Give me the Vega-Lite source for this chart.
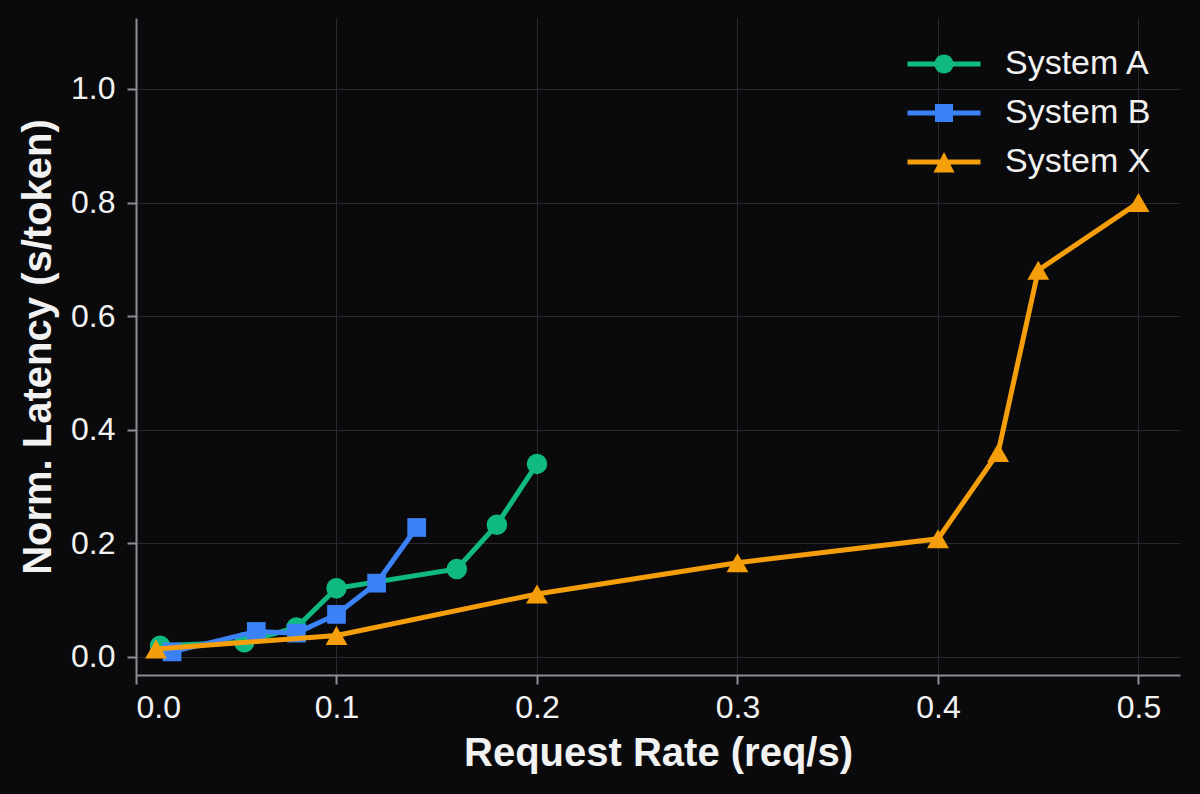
{
  "$schema": "https://vega.github.io/schema/vega-lite/v6.json",
  "description": "Normalized latency vs request rate for three serving systems, dark theme",
  "autosize": "none",
  "width": 1044,
  "height": 657,
  "padding": {"left": 136, "top": 18, "right": 20, "bottom": 119},
  "background": "#0a0a0c",
  "config": {
    "view": {"stroke": null},
    "font": "Liberation Sans",
    "axis": {
      "domainColor": "#8e8e94",
      "domainWidth": 2,
      "tickColor": "#8e8e94",
      "tickWidth": 2,
      "tickSize": 9,
      "gridColor": "#2a2a2e",
      "gridWidth": 1,
      "labelColor": "#f2f2f2",
      "labelFont": "Liberation Sans",
      "labelFontSize": 32,
      "titleColor": "#f2f2f2",
      "titleFont": "Liberation Sans",
      "titleFontSize": 40,
      "titleFontWeight": "bold"
    }
  },
  "data": {
    "values": [
      {"series": "System A", "rate": 0.012, "latency": 0.020},
      {"series": "System A", "rate": 0.054, "latency": 0.026},
      {"series": "System A", "rate": 0.080, "latency": 0.052},
      {"series": "System A", "rate": 0.100, "latency": 0.121},
      {"series": "System A", "rate": 0.160, "latency": 0.155},
      {"series": "System A", "rate": 0.180, "latency": 0.233},
      {"series": "System A", "rate": 0.200, "latency": 0.340},
      {"series": "System B", "rate": 0.018, "latency": 0.009},
      {"series": "System B", "rate": 0.060, "latency": 0.045},
      {"series": "System B", "rate": 0.080, "latency": 0.042},
      {"series": "System B", "rate": 0.100, "latency": 0.075},
      {"series": "System B", "rate": 0.120, "latency": 0.130},
      {"series": "System B", "rate": 0.140, "latency": 0.228},
      {"series": "System X", "rate": 0.010, "latency": 0.014},
      {"series": "System X", "rate": 0.100, "latency": 0.038},
      {"series": "System X", "rate": 0.200, "latency": 0.111},
      {"series": "System X", "rate": 0.300, "latency": 0.166},
      {"series": "System X", "rate": 0.400, "latency": 0.208},
      {"series": "System X", "rate": 0.430, "latency": 0.360},
      {"series": "System X", "rate": 0.450, "latency": 0.681},
      {"series": "System X", "rate": 0.500, "latency": 0.800}
    ]
  },
  "encoding": {
    "x": {
      "field": "rate",
      "type": "quantitative",
      "title": "Request Rate (req/s)",
      "scale": {"domain": [0, 0.5207], "nice": false, "zero": false},
      "axis": {
        "values": [0, 0.1, 0.2, 0.3, 0.4, 0.5],
        "format": ".1f",
        "labelPadding": 8,
        "titlePadding": 10
      }
    },
    "y": {
      "field": "latency",
      "type": "quantitative",
      "title": "Norm. Latency (s/token)",
      "scale": {"domain": [-0.0317, 1.125], "nice": false, "zero": false},
      "axis": {
        "values": [0, 0.2, 0.4, 0.6, 0.8, 1.0],
        "format": ".1f",
        "labelPadding": 12,
        "titlePadding": 12
      }
    }
  },
  "layer": [
    {
      "transform": [{"filter": "datum.series === 'System A'"}],
      "mark": {"type": "line", "strokeWidth": 5, "color": "#10b981"},
      "encoding": {}
    },
    {
      "transform": [{"filter": "datum.series === 'System A'"}],
      "mark": {"type": "point", "filled": true, "opacity": 1, "shape": "circle", "size": 420, "color": "#10b981", "strokeWidth": 0},
      "encoding": {}
    },
    {
      "transform": [{"filter": "datum.series === 'System B'"}],
      "mark": {"type": "line", "strokeWidth": 5, "color": "#3b82f6"},
      "encoding": {}
    },
    {
      "transform": [{"filter": "datum.series === 'System B'"}],
      "mark": {"type": "point", "filled": true, "opacity": 1, "shape": "square", "size": 350, "color": "#3b82f6", "strokeWidth": 0},
      "encoding": {}
    },
    {
      "transform": [{"filter": "datum.series === 'System X'"}],
      "mark": {"type": "line", "strokeWidth": 5, "color": "#f59e0b"},
      "encoding": {}
    },
    {
      "transform": [{"filter": "datum.series === 'System X'"}],
      "mark": {"type": "point", "filled": true, "opacity": 1, "shape": "triangle-up", "size": 480, "color": "#f59e0b", "strokeWidth": 0},
      "encoding": {}
    },
    {
      "mark": {"type": "point", "filled": true, "opacity": 0, "strokeWidth": 0},
      "encoding": {
        "color": {
          "field": "series",
          "type": "nominal",
          "scale": {
            "domain": ["System A", "System B", "System X"],
            "range": ["#10b981", "#3b82f6", "#f59e0b"]
          },
          "legend": {
            "title": null,
            "orient": "top-right",
            "offset": 29,
            "padding": 0,
            "labelFont": "Liberation Sans",
            "labelFontSize": 34,
            "labelColor": "#f2f2f2",
            "labelLimit": 400,
            "labelOffset": 44,
            "rowPadding": 15,
            "symbolSize": 400,
            "symbolOpacity": 1,
            "symbolStrokeWidth": 0
          }
        },
        "shape": {
          "field": "series",
          "type": "nominal",
          "scale": {
            "domain": ["System A", "System B", "System X"],
            "range": [
              "M-3.65,-0.25L3.65,-0.25L3.65,0.25L-3.65,0.25ZM-0.95,0A0.95,0.95 0 1,1 0.95,0A0.95,0.95 0 1,1 -0.95,0Z",
              "M-3.65,-0.25L3.65,-0.25L3.65,0.25L-3.65,0.25ZM-0.9,-0.9L0.9,-0.9L0.9,0.9L-0.9,0.9Z",
              "M-3.65,-0.25L3.65,-0.25L3.65,0.25L-3.65,0.25ZM0,-1.0L1.05,1.05L-1.05,1.05Z"
            ]
          },
          "legend": {
            "title": null,
            "orient": "top-right",
            "offset": 29,
            "padding": 0,
            "labelFont": "Liberation Sans",
            "labelFontSize": 34,
            "labelColor": "#f2f2f2",
            "labelLimit": 400,
            "labelOffset": 44,
            "rowPadding": 15,
            "symbolSize": 400,
            "symbolOpacity": 1,
            "symbolStrokeWidth": 0
          }
        }
      }
    }
  ]
}
